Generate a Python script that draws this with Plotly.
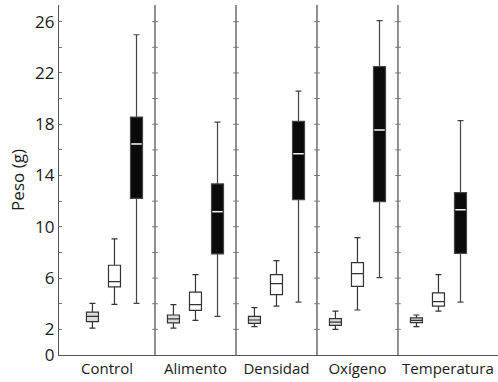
import plotly.graph_objects as go

categories = ["Control", "Alimento", "Densidad", "Oxígeno", "Temperatura"]

# small boxes (gray)
s_low = [2.09, 2.10, 2.21, 2.00, 2.21]
s_q1 = [2.60, 2.50, 2.47, 2.31, 2.52]
s_med = [3.02, 2.81, 2.73, 2.57, 2.70]
s_q3 = [3.35, 3.12, 3.02, 2.83, 2.89]
s_high = [4.03, 3.93, 3.69, 3.43, 3.12]

# medium boxes (white)
m_low = [3.95, 2.70, 3.82, 3.51, 3.43]
m_q1 = [5.32, 3.48, 4.71, 5.36, 3.82]
m_med = [5.72, 3.93, 5.56, 6.34, 4.16]
m_q3 = [7.00, 4.91, 6.27, 7.20, 4.84]
m_high = [9.05, 6.27, 7.36, 9.15, 6.27]

# large boxes (black)
l_low = [4.03, 3.02, 4.13, 6.03, 4.13]
l_q1 = [12.22, 7.88, 12.11, 11.96, 7.93]
l_med = [16.46, 11.18, 15.70, 17.55, 11.33]
l_q3 = [18.56, 13.34, 18.23, 22.49, 12.66]
l_high = [24.98, 18.17, 20.59, 26.08, 18.28]

y_tickvals = list(range(0, 28, 2))
y_labels = [0, 2, 6, 10, 14, 18, 22, 26]

offset = 0.272
bw = 0.148
xr = [-0.685, 4.735]

fig = go.Figure()

def add_box(xs, low, q1, med, q3, high, fill, line):
    fig.add_trace(go.Box(
        x=xs, lowerfence=low, q1=q1, median=med, q3=q3, upperfence=high,
        fillcolor=fill, line=dict(color=line, width=1.2), width=bw,
        whiskerwidth=0.5, boxpoints=False, showlegend=False, hoverinfo="skip"))

xs_s = [i - offset for i in range(5)]
xs_m = [i for i in range(5)]
xs_l = [i + offset for i in range(5)]

add_box(xs_s, s_low, s_q1, s_med, s_q3, s_high, "#dcdcdc", "#333333")
add_box(xs_m, m_low, m_q1, m_med, m_q3, m_high, "#ffffff", "#333333")
add_box(xs_l, l_low, l_q1, l_med, l_q3, l_high, "#0a0a0a", "#444444")

# white median lines on black boxes
mx, my = [], []
for x, m in zip(xs_l, l_med):
    mx += [x - bw / 2 + 0.01, x + bw / 2 - 0.01, None]
    my += [m, m, None]
fig.add_trace(go.Scatter(x=mx, y=my, mode="lines", line=dict(color="#f0f0f0", width=1.5),
                         showlegend=False, hoverinfo="skip"))

shapes = []
for sx in [0.5, 1.5, 2.5, 3.5]:
    shapes.append(dict(type="line", xref="x", yref="paper", x0=sx, x1=sx, y0=0, y1=1,
                       line=dict(color="#555555", width=1.3)))
    for t in y_tickvals[1:]:
        shapes.append(dict(type="line", xref="x", yref="y", x0=sx - 0.035, x1=sx + 0.035,
                           y0=t, y1=t, line=dict(color="#777777", width=1)))

label_pos = [-0.0926, 1.0, 2.0, 3.0, 4.117]

fig.update_layout(
    width=498, height=382,
    margin=dict(l=59, r=0, t=5, b=27),
    paper_bgcolor="white", plot_bgcolor="white",
    font=dict(family="Open Sans", size=15, color="#1a1a1a"),
    shapes=shapes,
    xaxis=dict(range=xr, tickvals=label_pos, ticktext=categories, ticks="",
               showgrid=False, zeroline=False, showline=True, linecolor="#555555",
               linewidth=1.3, tickfont=dict(size=15), fixedrange=True),
    yaxis=dict(range=[0, 27.3], tickvals=y_tickvals,
               ticktext=[str(v) if v in y_labels else "" for v in y_tickvals],
               ticks="inside", ticklen=3, tickcolor="#777777", showgrid=False,
               zeroline=False, showline=True, linecolor="#555555", linewidth=1.3,
               tickfont=dict(size=17),
               title=dict(text="Peso (g)", font=dict(size=17), standoff=6)),
)

fig.write_html("out.html")
